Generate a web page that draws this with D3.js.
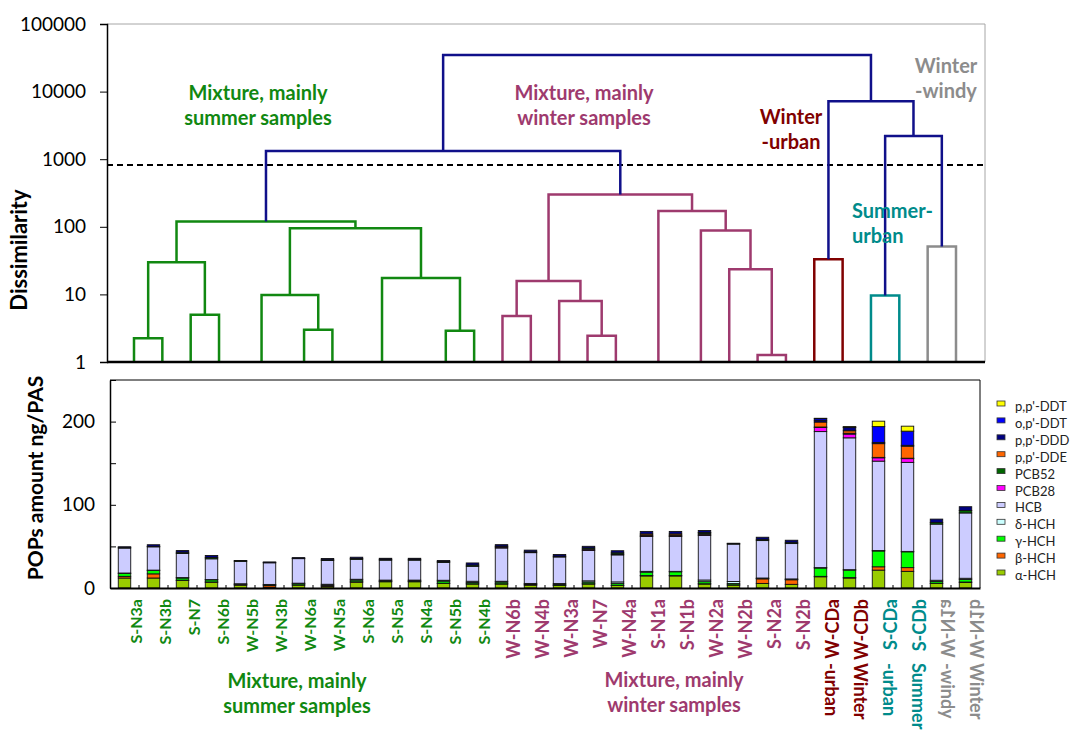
<!DOCTYPE html>
<html>
<head>
<meta charset="utf-8">
<script src="https://cdn.jsdelivr.net/npm/d3@7"></script>
<style>
  body { margin: 0; background: #fff; }
  text { font-family: Lato, "Open Sans", sans-serif; }
</style>
</head>
<body>
<script>
// samples in dendrogram / bar order
const samples = ["S-N3a","S-N3b","S-N7","S-N6b","W-N5b","W-N3b","W-N6a","W-N5a","S-N6a","S-N5a",
  "S-N4a","S-N5b","S-N4b","W-N6b","W-N4b","W-N3a","W-N7","W-N4a","S-N1a","S-N1b",
  "W-N2a","W-N2b","S-N2a","S-N2b","W-CDa","W-CDb","S-CDa","S-CDb","W-N1a","W-N1b"];
const sampleGroup = ["sum","sum","sum","sum","sum","sum","sum","sum","sum","sum","sum","sum","sum",
  "win","win","win","win","win","win","win","win","win","win","win",
  "wurb","wurb","surb","surb","windy","windy"];
const sampleNote = {"W-CDa":"-urban","W-CDb":"Winter","S-CDa":"-urban","S-CDb":"Summer","W-N1a":"-windy","W-N1b":"Winter"};

const groupColor = {sum:"#118811", win:"#9e3a6e", wurb:"#800000", surb:"#008b8b", windy:"#8c8c8c", link:"#10108a"};

// dendrogram merges: [childA, childB, dissimilarity, colour group]; leaves are 0..29, merges 30..
const merges = [
  [0, 1, 2.25, "sum"], [2, 3, 5, "sum"], [30, 31, 30, "sum"],
  [4, 5, 0.5, "sum"], [6, 7, 3, "sum"], [33, 34, 9.8, "sum"],
  [9, 10, 0.4, "sum"], [8, 36, 0.6, "sum"], [11, 12, 2.9, "sum"], [37, 38, 17.5, "sum"],
  [35, 39, 95, "sum"], [32, 40, 120, "sum"],
  [13, 14, 4.8, "win"], [16, 17, 2.45, "win"], [15, 43, 8, "win"], [42, 44, 15.8, "win"],
  [18, 19, 0.5, "win"], [22, 23, 1.27, "win"], [21, 47, 23.5, "win"], [20, 48, 88, "win"],
  [46, 49, 172, "win"], [45, 50, 300, "win"],
  [41, 51, 1320, "link"],
  [24, 25, 33, "wurb"], [26, 27, 9.6, "surb"], [28, 29, 51, "windy"],
  [54, 55, 2200, "link"], [53, 56, 7200, "link"], [52, 57, 34700, "link"]
];
const cutLevel = 820;
const topTicks = [1, 10, 100, 1000, 10000, 100000];

// POPs, stacked bottom to top
const compounds = ["α-HCH","β-HCH","γ-HCH","δ-HCH","HCB","PCB28","PCB52","p,p'-DDE","p,p'-DDD","o,p'-DDT","p,p'-DDT"];
const compoundColors = ["#99cc00","#ff6600","#00ff00","#ccffff","#ccccff","#ff00ff","#006600","#ff6600","#000080","#0000ff","#ffff00"];
const aHCH  = [12,12,9,7,3.5,1,3.5,2,7,7.5,7.5,5.5,4.8,4.8,3.5,3,4.8,3,14.5,14.5,4.8,3.5,5.5,4.4,13.5,12,21.5,20,5.5,6.7];
const bHCH  = [2,5,0.5,0.3,0.3,2,0.3,0.5,0.5,0.3,0.3,0.3,0.3,0.3,0.3,0.3,0.3,0.3,0.5,0.5,0.3,0.3,5.5,5.5,0.5,0.5,4,4.5,0.3,0.5];
const gHCH  = [3.5,4,2.5,2.5,0.8,0.8,1.5,1,2,1,1,2.5,1.5,2,1,1,2,2,4,4.5,2.5,1.5,0.5,0.5,10,9,19,19,2,3];
const dHCH  = [0.5,0.5,0.5,0.3,0.5,0.5,0.5,1,1,0.7,0.7,1,1.5,1,0.7,1,1.5,2,1,0.5,2,2.5,0.5,0.5,0.5,0.5,0.5,0.5,1.5,1.5];
const HCB   = [30,28,29,25,27,26,29.5,28.5,24,24,24,21.5,18,40,37,32,36.5,32.5,42,42,53.5,45,45,42.5,163.5,158.5,107.5,107,67.5,78.5];
const PCB28 = [0,0,0,0,0,0,0,0,0,0,0,0,0,1.2,0,0,1.5,1,0.5,0.5,1.5,0,0,0,5,4.5,4,4.5,0,0];
const PCB52 = [1,0.5,1.5,1.5,0.5,0.5,0.5,1,1,1,1,1,1.5,1,1,1,1.5,1.5,1,1,1.5,0.5,1.5,1.5,0.5,1,0.5,0.5,2,3];
const ppDDE = [0,0,0,0,0,0,0,0,0,0,0,0,0,0,0,0,0,0,1.5,1.5,0.5,0,0,0,6,3,16.5,14.5,0,0];
const ppDDD = [0.5,2,2,2.5,0.5,0.5,0.7,1.5,1.5,1.2,1.2,1.2,2.5,1.8,2,2,2,2.5,3,3,2.5,0.5,2.5,2.5,2,4,1.5,1,4,4.5];
const opDDT = [0,0,0,0,0,0,0,0,0,0,0,0,0,0,0,0,0,0,0,0,0,0,0,0,2,0.5,19,17,0,0];
const ppDDT = [0,0,0,0,0,0,0,0,0,0,0,0,0,0,0,0,0,0,0,0,0,0,0,0,0.5,0.5,6.5,6,0,0];
const series = [aHCH,bHCH,gHCH,dHCH,HCB,PCB28,PCB52,ppDDE,ppDDD,opDDT,ppDDT];

const width = 1076, height = 736;
const svg = d3.select("body").append("svg")
  .attr("width", width).attr("height", height)
  .style("background", "#fff");

// ---------- dendrogram panel ----------
const tp = {left: 107, right: 985, top: 24, bottom: 362};
const yTop = d3.scaleLog().domain([1, 100000]).range([tp.bottom, tp.top]);
const xLeaf = d3.scalePoint().domain(samples).range([tp.left + 27, tp.right - 29]);

svg.append("path")
  .attr("d", `M${tp.left},${tp.top}H${tp.right}V${tp.bottom}`)
  .attr("fill", "none").attr("stroke", "#a6a6a6").attr("stroke-width", 1);

svg.append("line")
  .attr("x1", tp.left).attr("x2", tp.right)
  .attr("y1", yTop(cutLevel)).attr("y2", yTop(cutLevel))
  .attr("stroke", "#000").attr("stroke-width", 2).attr("stroke-dasharray", "6,4");

const nodeX = samples.map(s => xLeaf(s));
const nodeH = samples.map(() => 1);
merges.forEach(m => {
  nodeX.push((nodeX[m[0]] + nodeX[m[1]]) / 2);
  nodeH.push(Math.max(m[2], 1));
});

svg.append("g").selectAll("path")
  .data(merges.filter(m => m[2] >= 1))
  .join("path")
    .attr("d", m => `M${nodeX[m[0]]},${yTop(nodeH[m[0]])}V${yTop(m[2])}H${nodeX[m[1]]}V${yTop(nodeH[m[1]])}`)
    .attr("fill", "none")
    .attr("stroke", m => groupColor[m[3]])
    .attr("stroke-width", 2.5);

const yTopAxis = d3.axisLeft(yTop).tickValues(topTicks).tickFormat(d3.format("d"))
  .tickSize(7).tickPadding(14);
svg.append("g")
  .attr("transform", `translate(${tp.left},0)`)
  .call(yTopAxis)
  .call(g => g.select(".domain").attr("stroke-width", 1.5))
  .call(g => g.selectAll("text").style("font-size", "19px").attr("fill", "#000"));

svg.append("line")
  .attr("x1", tp.left).attr("x2", tp.right)
  .attr("y1", tp.bottom).attr("y2", tp.bottom)
  .attr("stroke", "#000").attr("stroke-width", 2.5);

svg.append("text")
  .attr("transform", "translate(18,250) rotate(-90)")
  .attr("text-anchor", "middle").attr("dominant-baseline", "central")
  .style("font-size", "22px").style("font-weight", "bold")
  .text("Dissimilarity");

function note(lines, x, y, color, anchor) {
  const t = svg.append("text")
    .attr("text-anchor", anchor || "middle")
    .attr("fill", color)
    .style("font-size", "20px").style("font-weight", "bold");
  lines.forEach((l, i) => {
    t.append("tspan").attr("x", x).attr("y", y + i * 25).attr("dominant-baseline", "central").text(l);
  });
}
note(["Mixture, mainly", "summer samples"], 258, 92, groupColor.sum);
note(["Mixture, mainly", "winter samples"], 584, 92, groupColor.win);
note(["Winter", "-urban"], 791, 116, groupColor.wurb);
note(["Summer-", "urban"], 852, 210, groupColor.surb, "start");
note(["Winter", "-windy"], 946, 65, groupColor.windy);

// ---------- bar panel ----------
const bp = {left: 110, right: 980, top: 380, bottom: 588};
const x = d3.scaleBand().domain(samples).range([bp.left, bp.right]).paddingInner(0.57).paddingOuter(0.285);
const y = d3.scaleLinear().domain([0, 250]).range([bp.bottom, bp.top]);

const rows = samples.map((s, i) => {
  const r = {sample: s};
  compounds.forEach((c, j) => { r[c] = series[j][i]; });
  return r;
});
const stacked = d3.stack().keys(compounds)(rows);
const color = d3.scaleOrdinal(compounds, compoundColors);

svg.append("path")
  .attr("d", `M${bp.left},${bp.top}H${bp.right}V${bp.bottom}`)
  .attr("fill", "none").attr("stroke", "#000").attr("stroke-width", 1);

svg.append("g").selectAll("g")
  .data(stacked)
  .join("g")
    .attr("fill", d => color(d.key))
  .selectAll("rect")
  .data(d => d)
  .join("rect")
    .attr("x", d => x(d.data.sample))
    .attr("width", x.bandwidth())
    .attr("y", d => y(d[1]))
    .attr("height", d => y(d[0]) - y(d[1]))
    .attr("stroke", "#111").attr("stroke-width", 0.9);

const yAxis = d3.axisLeft(y).tickValues([0, 50, 100, 150, 200, 250])
  .tickFormat(d => d % 100 === 0 ? d : "")
  .tickSizeInner(-6).tickSizeOuter(0).tickPadding(15);
svg.append("g")
  .attr("transform", `translate(${bp.left},0)`)
  .call(yAxis)
  .call(g => g.select(".domain").attr("stroke-width", 1.5))
  .call(g => g.selectAll("text").style("font-size", "19px").attr("fill", "#000"));

const xAxis = d3.axisBottom(x).tickValues([]).tickSizeOuter(0);
svg.append("g")
  .attr("transform", `translate(0,${bp.bottom})`)
  .call(xAxis)
  .call(g => g.select(".domain").attr("stroke-width", 2));
svg.append("g").selectAll("line")
  .data(samples.slice(1))
  .join("line")
    .attr("x1", d => x(d) - x.step() * x.paddingInner() / 2)
    .attr("x2", d => x(d) - x.step() * x.paddingInner() / 2)
    .attr("y1", bp.bottom).attr("y2", bp.bottom - 3)
    .attr("stroke", "#000");

svg.append("text")
  .attr("transform", `translate(34,${(bp.top + bp.bottom) / 2 - 6}) rotate(-90)`)
  .attr("text-anchor", "middle").attr("dominant-baseline", "central")
  .style("font-size", "21px").style("font-weight", "bold")
  .text("POPs amount ng/PAS");

// sample labels
const lab = svg.append("g");
samples.forEach((s, i) => {
  const g = sampleGroup[i];
  const cx = x(s) + x.bandwidth() / 2 + 11;
  const size = g === "sum" ? "16px" : "18px";
  const tr = g === "windy"
    ? `translate(${cx},599) rotate(90) scale(-1,1)`
    : `translate(${cx},599) rotate(-90)`;
  lab.append("text")
    .attr("transform", tr)
    .attr("text-anchor", "end").attr("dominant-baseline", "central")
    .attr("fill", groupColor[g])
    .style("font-size", size).style("font-weight", "bold")
    .text(s);
  if (sampleNote[s]) {
    lab.append("text")
      .attr("transform", `translate(${cx},663) rotate(90)`)
      .attr("text-anchor", "start").attr("dominant-baseline", "central")
      .attr("fill", groupColor[g])
      .style("font-size", size).style("font-weight", "bold")
      .text(sampleNote[s]);
  }
});

note(["Mixture, mainly", "summer samples"], 297, 680, groupColor.sum);
note(["Mixture, mainly", "winter samples"], 674, 679, groupColor.win);

// legend
const legend = svg.append("g").attr("transform", "translate(997,401)");
const legendKeys = compounds.slice().reverse();
legendKeys.forEach((k, i) => {
  legend.append("rect")
    .attr("x", 0).attr("y", i * 16.9)
    .attr("width", 8).attr("height", 5)
    .attr("fill", color(k)).attr("stroke", "#333").attr("stroke-width", 0.8);
  legend.append("text")
    .attr("x", 18).attr("y", i * 16.9 + 5)
    .attr("dominant-baseline", "central")
    .style("font-size", "13px").attr("fill", "#222")
    .text(k);
});
</script>
</body>
</html>
